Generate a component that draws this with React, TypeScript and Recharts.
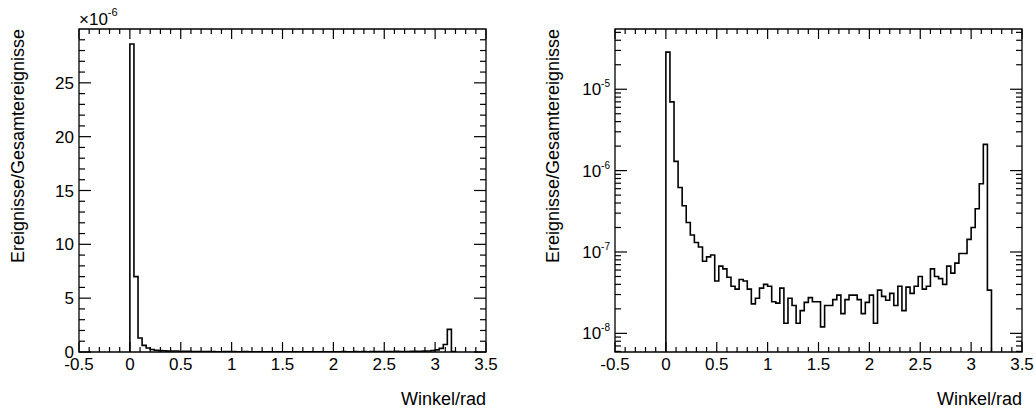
import React from 'react';
import { LineChart, Line, XAxis, YAxis, ReferenceArea, Label } from 'recharts';

// histogram binning: 80 bins of 0.04 rad starting at 0
const BIN_LOW = 0;
const BIN_WIDTH = 0.04;

// bin contents (Ereignisse/Gesamtereignisse)
const binContent = [
  2.86e-5, 7.0e-6, 1.3e-6, 6.2e-7, 3.7e-7, 2.3e-7, 1.62e-7, 1.31e-7, 1.15e-7, 7.7e-8,
  8.7e-8, 9.2e-8, 4.4e-8, 6.7e-8, 6.2e-8, 4.9e-8, 3.8e-8, 3.5e-8, 4.6e-8, 4.4e-8,
  3.5e-8, 2.3e-8, 2.7e-8, 3.6e-8, 4.0e-8, 3.8e-8, 2.45e-8, 2.35e-8, 3.6e-8, 1.33e-8,
  2.7e-8, 2.2e-8, 1.33e-8, 1.9e-8, 2.4e-8, 2.75e-8, 2.45e-8, 2.45e-8, 1.2e-8, 2.2e-8,
  2.2e-8, 2.6e-8, 2.95e-8, 1.75e-8, 2.6e-8, 2.95e-8, 2.95e-8, 2.6e-8, 1.75e-8, 2.4e-8,
  2.95e-8, 1.33e-8, 3.4e-8, 2.85e-8, 2.55e-8, 3.1e-8, 2.2e-8, 3.8e-8, 1.9e-8, 3.7e-8,
  3.1e-8, 3.8e-8, 5.0e-8, 3.5e-8, 3.8e-8, 6.2e-8, 5.0e-8, 4.7e-8, 4.0e-8, 6.7e-8,
  5.5e-8, 7.3e-8, 9.6e-8, 9.6e-8, 1.43e-7, 2.0e-7, 3.4e-7, 6.9e-7, 2.1e-6, 3.4e-8,
];

const xRange = [-0.5, 3.5];
const xMajorTicks = [-0.5, 0, 0.5, 1, 1.5, 2, 2.5, 3, 3.5];
const linRange = [0, 3.0e-5];
const linMajorTicks = [0, 5e-6, 1e-5, 1.5e-5, 2e-5, 2.5e-5];
const logRange = [5.9e-9, 5.5e-5];
const logMajorTicks = [1e-8, 1e-7, 1e-6, 1e-5];
const logMantissas = [1, 2, 3, 4, 5, 6, 7, 8, 9];

const FONT = '"Liberation Sans", Arial, Helvetica, sans-serif';
const TOP = 29;
const BOTTOM = 352;

// minor ticks every 0.1 on x, every 1e-6 on the linear y axis
const xTicks = Array.from({ length: 41 }, (_, i) => Math.round((-0.5 + i * 0.1) * 10) / 10);
const linTicks = Array.from({ length: 30 }, (_, i) => i * 1e-6);
const logTicks: number[] = [];
[-9, -8, -7, -6, -5].forEach((d) =>
  logMantissas.forEach((m) => {
    const v = m * Math.pow(10, d);
    if (v >= logRange[0] && v <= logRange[1]) logTicks.push(v);
  })
);

function histPoints(floor: number) {
  const pts = [{ x: BIN_LOW, y: floor }];
  binContent.forEach((v, i) => pts.push({ x: BIN_LOW + i * BIN_WIDTH, y: v }));
  pts.push({ x: BIN_LOW + binContent.length * BIN_WIDTH, y: floor });
  return pts;
}

const isMajorX = (v: number) => xMajorTicks.some((t) => Math.abs(t - v) < 1e-6);
const isMajorLin = (v: number) => linMajorTicks.some((t) => Math.abs(t - v) < 1e-9);
const isMajorLog = (v: number) => logMajorTicks.some((t) => Math.abs(t / v - 1) < 1e-6);

function Panel({ log, width, yAxisWidth, marginRight, titleX }: any) {
  const left = yAxisWidth;
  const right = width - marginRight;
  const domain = log ? logRange : linRange;
  const data = histPoints(log ? 1e-10 : 0);

  const renderXTick = (props: any) => {
    const { x, y, payload } = props;
    const major = isMajorX(payload.value);
    const len = major ? 10 : 5;
    return (
      <g>
        <line x1={x} y1={y} x2={x} y2={y - len} stroke="#000" strokeWidth={1.2} />
        <line x1={x} y1={TOP} x2={x} y2={TOP + len} stroke="#000" strokeWidth={1.2} />
        {major && (
          <text x={x} y={y + 18} textAnchor="middle" fontSize={17} fontFamily={FONT} fill="#000">
            {String(payload.value)}
          </text>
        )}
      </g>
    );
  };

  const renderYTick = (props: any) => {
    const { x, y, payload } = props;
    const v = payload.value;
    const major = log ? isMajorLog(v) : isMajorLin(v);
    const len = major ? 12 : 6;
    let label = null;
    if (major && log) {
      label = (
        <text x={x - 5} y={y + 6} textAnchor="end" fontSize={17} fontFamily={FONT} fill="#000">
          10<tspan dy={-8} fontSize={10}>{Math.round(Math.log10(v))}</tspan>
        </text>
      );
    } else if (major) {
      label = (
        <text x={x - 5} y={y + 6} textAnchor="end" fontSize={17} fontFamily={FONT} fill="#000">
          {String(Math.round(v * 1e6))}
        </text>
      );
    }
    return (
      <g>
        <line x1={x} y1={y} x2={x + len} y2={y} stroke="#000" strokeWidth={1.2} />
        <line x1={right} y1={y} x2={right - len} y2={y} stroke="#000" strokeWidth={1.2} />
        {label}
      </g>
    );
  };

  return (
    <LineChart width={width} height={412} data={data} margin={{ top: TOP, right: marginRight, bottom: 0, left: 0 }}>
      <XAxis
        dataKey="x"
        type="number"
        domain={xRange}
        ticks={xTicks}
        interval={0}
        tickSize={0}
        tickMargin={0}
        axisLine={false}
        tickLine={false}
        height={60}
        tick={renderXTick}
      >
        <Label
          content={() => (
            <text x={right} y={BOTTOM + 53} textAnchor="end" fontSize={18} fontFamily={FONT} fill="#000">
              Winkel/rad
            </text>
          )}
        />
      </XAxis>
      <YAxis
        type="number"
        scale={log ? 'log' : 'linear'}
        domain={domain}
        allowDataOverflow
        ticks={log ? logTicks : linTicks}
        interval={0}
        tickSize={0}
        tickMargin={0}
        axisLine={false}
        tickLine={false}
        width={yAxisWidth}
        tick={renderYTick}
      >
        <Label
          content={() => (
            <g>
              <text
                x={titleX}
                y={TOP}
                transform={`rotate(-90 ${titleX} ${TOP})`}
                textAnchor="end"
                fontSize={18}
                fontFamily={FONT}
                fill="#000"
              >
                Ereignisse/Gesamtereignisse
              </text>
              {!log && (
                <text x={left} y={25} fontSize={17} fontFamily={FONT} fill="#000">
                  ×10<tspan dy={-9} fontSize={11}>-6</tspan>
                </text>
              )}
            </g>
          )}
        />
      </YAxis>
      <ReferenceArea x1={xRange[0]} x2={xRange[1]} y1={domain[0]} y2={domain[1]} fill="none" stroke="#000" strokeWidth={1.3} />
      <Line
        type="stepAfter"
        dataKey="y"
        stroke="#000"
        strokeWidth={1.6}
        dot={false}
        activeDot={false}
        isAnimationActive={false}
      />
    </LineChart>
  );
}

export default function App() {
  return (
    <div style={{ position: 'absolute', left: 0, top: 0, width: 1035, height: 412, background: '#fff', display: 'flex' }}>
      <Panel log={false} width={520} yAxisWidth={79} marginRight={34} titleX={24} />
      <Panel log width={515} yAxisWidth={95} marginRight={13} titleX={39} />
    </div>
  );
}
